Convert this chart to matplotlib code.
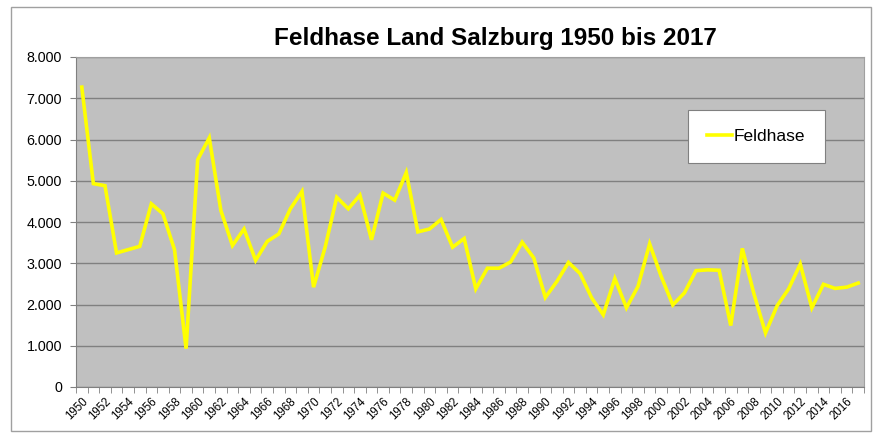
import numpy as np
import matplotlib
matplotlib.use("Agg")
import matplotlib.pyplot as plt
from matplotlib.patches import Rectangle
from matplotlib.ticker import FuncFormatter

plt.rcParams["font.family"] = ["Liberation Sans", "DejaVu Sans"]

years = list(range(1950, 2018))
feldhase = [
    7270, 4930, 4880, 3250, 3330, 3410, 4440, 4200, 3330, 930,
    5510, 6040, 4280, 3430, 3830, 3070, 3530, 3710, 4320, 4740,
    2420, 3390, 4600, 4320, 4650, 3570, 4700, 4530, 5200, 3760,
    3830, 4060, 3390, 3600, 2380, 2880, 2880, 3030, 3510, 3130,
    2170, 2560, 3020, 2750, 2160, 1750, 2630, 1920, 2440, 3470,
    2680, 1990, 2280, 2820, 2840, 2830, 1490, 3360, 2260, 1310,
    1970, 2380, 2980, 1920, 2490, 2390, 2420, 2520,
]

fig = plt.figure(figsize=(8.79, 4.33), dpi=100)
fig.patches.append(Rectangle((11 / 879, 2 / 433), 860 / 879, 424 / 433,
                             transform=fig.transFigure, fill=False,
                             edgecolor="#a0a0a0", linewidth=1))

ax = fig.add_axes([76 / 879, 1 - 387 / 433, 788 / 879, 330 / 433])
ax.set_facecolor("#c0c0c0")

x = np.arange(len(years))
ax.plot(x, feldhase, color="#ffff00", linewidth=2.6, label="Feldhase",
        solid_joinstyle="miter", zorder=3)

ax.set_xlim(-0.5, len(years) - 0.5)
ax.set_ylim(0, 8000)
ax.set_yticks(np.arange(0, 8001, 1000))
ax.yaxis.set_major_formatter(FuncFormatter(lambda v, p: f"{int(v):,}".replace(",", ".")))
ax.grid(axis="y", color="#808080", linewidth=1, zorder=1)
ax.set_axisbelow(True)

ax.set_xticks(x[::2])
ax.set_xticklabels([str(y) for y in years[::2]], rotation=45, ha="right",
                   rotation_mode="anchor", fontsize=8.3)
ax.set_xticks(np.arange(-0.5, len(years), 1), minor=True)
ax.tick_params(axis="x", which="major", length=0, pad=6)
ax.tick_params(axis="x", which="minor", length=4, color="#808080")
ax.tick_params(axis="y", length=4, color="#808080", labelsize=10.3, pad=6)

for side in ["top", "right"]:
    ax.spines[side].set_color("#a0a0a0")
for side in ["left", "bottom"]:
    ax.spines[side].set_color("#808080")

fig.text(0.564, 0.91, "Feldhase Land Salzburg 1950 bis 2017", ha="center",
         va="center", fontsize=17.5, fontweight="bold")

leg = ax.legend(loc="upper left", bbox_to_anchor=(612 / 788, 277 / 330),
                fontsize=12.5, frameon=True, fancybox=False, handlelength=1.45,
                handletextpad=0.1, borderpad=1.1, borderaxespad=0,
                framealpha=1, facecolor="white")
leg.get_frame().set_edgecolor("#808080")
leg.get_frame().set_linewidth(0.8)

fig.savefig("out.png", dpi=100)
